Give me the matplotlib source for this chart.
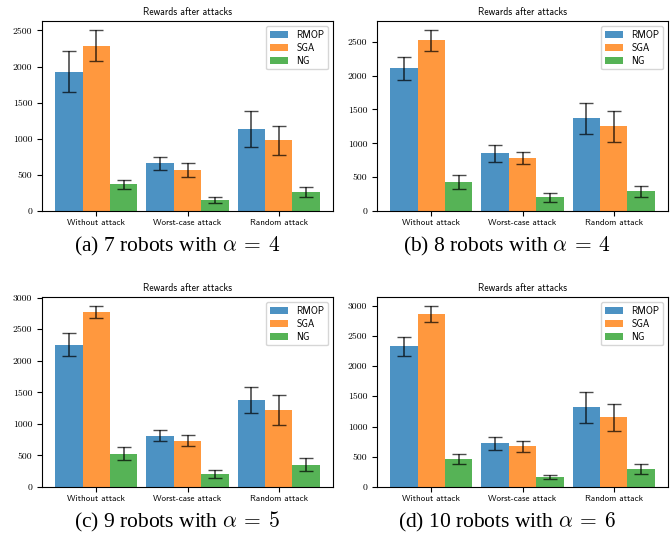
import numpy as np
import matplotlib
matplotlib.use('Agg')
import matplotlib.pyplot as plt
from matplotlib.ticker import MultipleLocator

plt.rcParams['mathtext.fontset'] = 'cm'

# categories and methods
groups = ['Without attack', 'Worst-case attack', 'Random attack']
methods = ['RMOP', 'SGA', 'NG']
colors = ['tab:blue', 'tab:orange', 'tab:green']

# mean rewards per panel (rows: RMOP, SGA, NG)
means_a = [[1930, 660, 1130], [2290, 563, 978], [369, 148, 258]]
errs_a = [[285, 88, 250], [215, 95, 205], [67, 40, 70]]

means_b = [[2106, 851, 1368], [2520, 778, 1250], [423, 202, 290]]
errs_b = [[167, 123, 233], [153, 88, 231], [103, 64, 86]]

means_c = [[2256, 810, 1382], [2770, 731, 1223], [530, 207, 355]]
errs_c = [[178, 87, 204], [98, 87, 233], [106, 58, 106]]

means_d = [[2330, 720, 1317], [2862, 670, 1151], [465, 166, 299]]
errs_d = [[158, 103, 257], [130, 92, 227], [83, 36, 77]]

captions = [r'(a) 7 robots with $\alpha\:=\:4$', r'(b) 8 robots with $\alpha\:=\:4$',
            r'(c) 9 robots with $\alpha\:=\:5$', r'(d) 10 robots with $\alpha\:=\:6$']

fig = plt.figure(figsize=(6.7, 5.33), dpi=100)
W, H = 670.0, 533.0

# axes boxes in pixels: left, top, right, bottom
boxes = [(42, 21, 333, 211), (377, 21, 668, 211),
         (42, 297, 333, 487), (377, 297, 668, 487)]
cap_pos = [(177, 251.5), (507, 251.5), (177, 527.5), (507, 527.5)]

panels = [(means_a, errs_a), (means_b, errs_b), (means_c, errs_c), (means_d, errs_d)]

x = np.arange(len(groups))
width = 0.3
for (means, errs), box, cap, cp in zip(panels, boxes, captions, cap_pos):
    l, t, r, b = box
    ax = fig.add_axes([l / W, 1 - b / H, (r - l) / W, (b - t) / H])
    for i, m in enumerate(methods):
        ax.bar(x + (i - 1) * width, means[i], width, yerr=errs[i], color=colors[i],
               alpha=0.8, label=m, capsize=5,
               error_kw=dict(ecolor='black', alpha=0.7, elinewidth=1.2, capthick=1))
    ax.yaxis.set_major_locator(MultipleLocator(500))
    ax.set_xticks(x)
    ax.set_xticklabels(groups, fontfamily='cmss10', fontsize=6.5)
    ax.tick_params(axis='x', pad=2)
    for lab in ax.get_yticklabels():
        lab.set_fontfamily('cmr10')
        lab.set_fontsize(7)
    ax.set_title('Rewards after attacks', fontfamily='cmss10', fontsize=7, pad=4)
    ax.legend(loc='upper right', prop={'family': 'cmss10', 'size': 7},
              labelspacing=0.3, handlelength=1.9)
    fig.text(cp[0] / W, 1 - cp[1] / H, cap, ha='center', va='baseline',
             fontfamily='Liberation Serif', fontsize=15.5)

fig.savefig('out.png', dpi=100)
